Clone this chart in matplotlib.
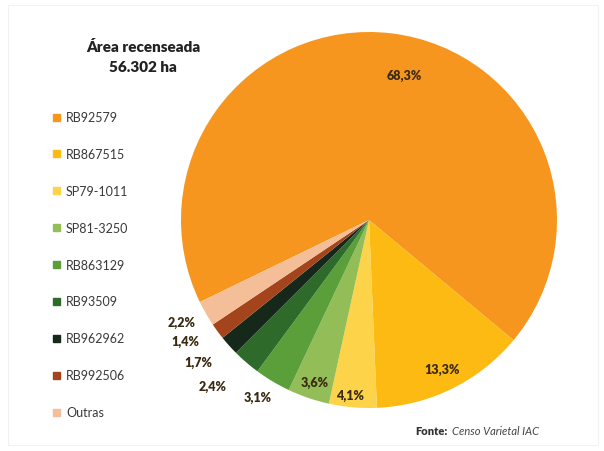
import matplotlib.pyplot as plt
from matplotlib.patches import Rectangle

plt.rcParams['font.family'] = ['Lato', 'DejaVu Sans']

variedades = ['RB92579', 'RB867515', 'SP79-1011', 'SP81-3250', 'RB863129',
              'RB93509', 'RB962962', 'RB992506', 'Outras']
participacao = [68.3, 13.3, 4.1, 3.6, 3.1, 2.4, 1.7, 1.4, 2.2]
cores = ['#F7961E', '#FCBA12', '#FDD34A', '#93BD57', '#5A9F3A',
         '#2E6A2A', '#15281A', '#A4441C', '#F4BE98']
rotulos = ['68,3%', '13,3%', '4,1%', '3,6%', '3,1%', '2,4%', '1,7%', '1,4%', '2,2%']
# onde cada rotulo fica (coord. do eixo, raio = 1)
pos_rotulos = [(0.19, 0.77), (0.39, -0.79), (-0.10, -0.93), (-0.29, -0.86),
               (-0.59, -0.94), (-0.83, -0.88), (-0.91, -0.755), (-0.975, -0.645),
               (-0.995, -0.54)]

fig = plt.figure(figsize=(6.04, 4.52), dpi=100)
fig.patches.append(Rectangle((8 / 604, 6 / 452), 590 / 604, 440 / 452,
                             transform=fig.transFigure, fill=False,
                             edgecolor='#f2f2f2', linewidth=0.8))

# pizza
ax = fig.add_axes([(369 - 188) / 604, (452 - 221 - 188) / 452, 376 / 604, 376 / 452])
inicio = -40 + participacao[0] / 100 * 360
ax.pie(participacao, colors=cores, startangle=inicio, counterclock=False,
       radius=1, wedgeprops=dict(linewidth=0))
ax.set_xlim(-1, 1)
ax.set_ylim(-1, 1)
ax.set_aspect('equal')
ax.axis('off')

for txt, (x, y) in zip(rotulos, pos_rotulos):
    ax.text(x, y, txt, ha='center', va='center', fontsize=9,
            fontweight='heavy', color='#3a2a12', clip_on=False)

# titulo
fig.text(143 / 604, 1 - 47 / 452, 'Área recenseada', ha='center', va='center',
         fontsize=11, fontweight='heavy', color='#222222')
fig.text(143 / 604, 1 - 68 / 452, '56.302 ha', ha='center', va='center',
         fontsize=11, fontweight='heavy', color='#222222')

# legenda
for i, (nome, cor) in enumerate(zip(variedades, cores)):
    y = 1 - (118 + i * 36.9) / 452
    fig.patches.append(Rectangle((53 / 604, y - 3.5 / 452), 7 / 604, 7 / 452,
                                 transform=fig.transFigure, color=cor))
    fig.text(66 / 604, y, nome, ha='left', va='center', fontsize=9,
             color='#3a3a3a')

# fonte
fig.text(415 / 604, 1 - 432 / 452, 'Fonte:', ha='left', va='center',
         fontsize=8, fontweight='heavy', color='#333333')
fig.text(452 / 604, 1 - 432 / 452, 'Censo Varietal IAC', ha='left', va='center',
         fontsize=8, style='italic', color='#444444')

fig.savefig('out.png', dpi=100)
